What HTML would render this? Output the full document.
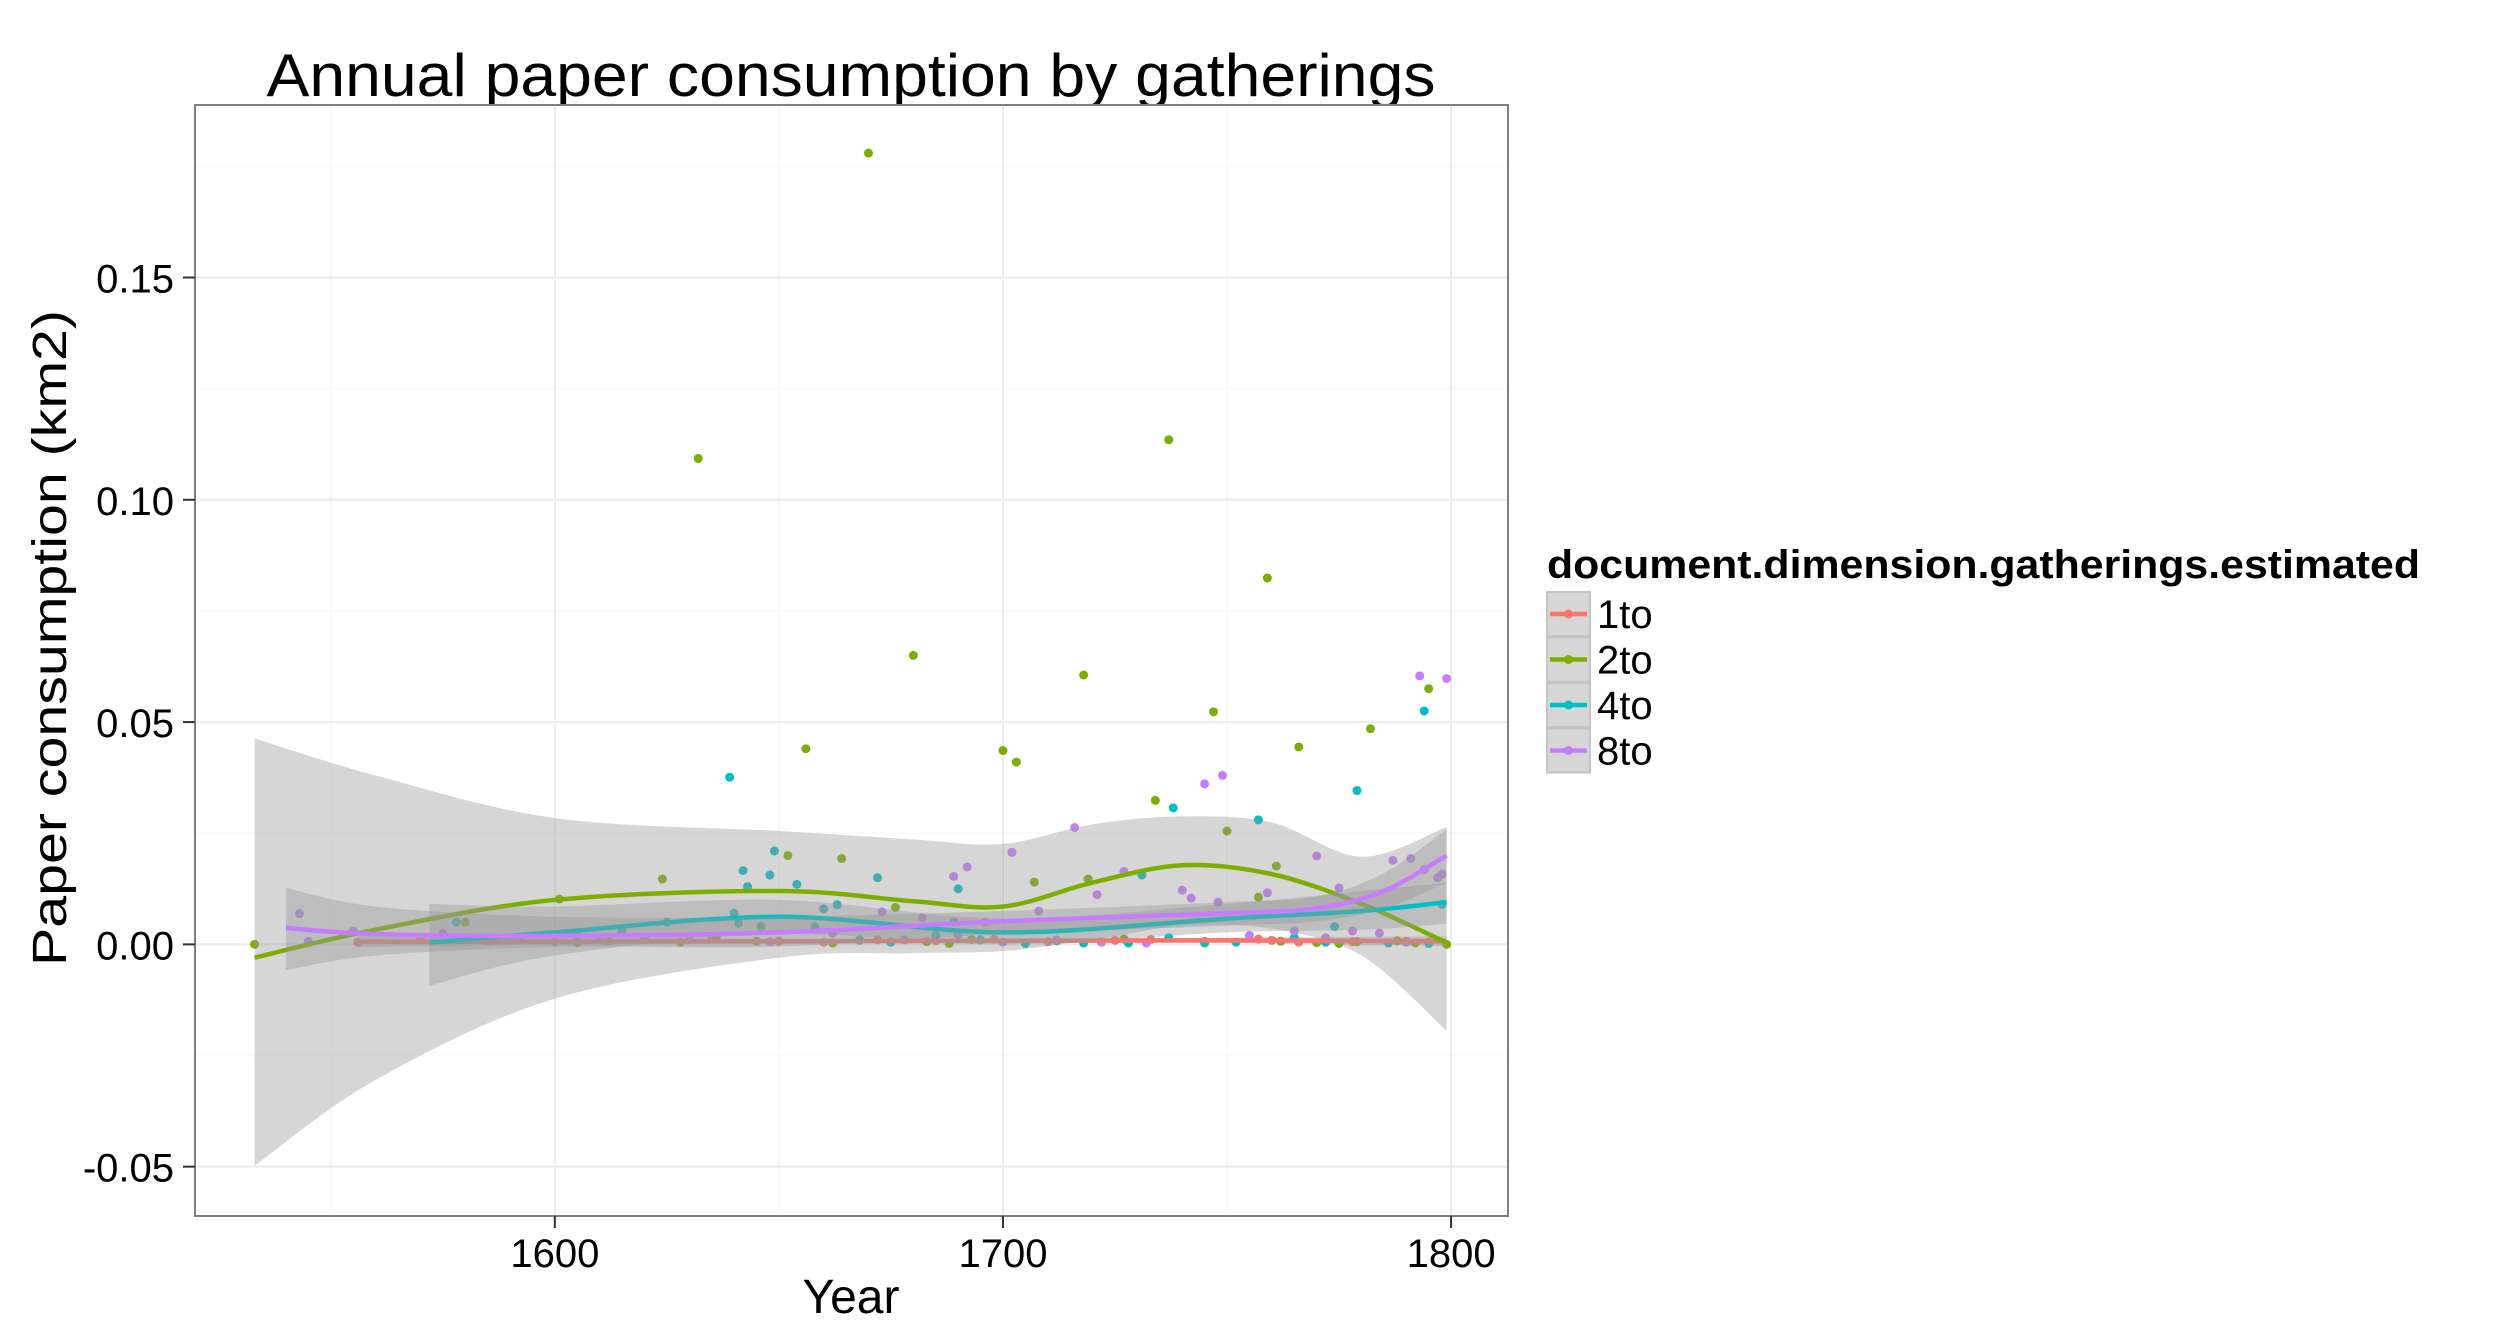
<!DOCTYPE html>
<html><head><meta charset="utf-8"><style>
html,body{margin:0;padding:0;background:#fff;}
svg{display:block;font-family:"Liberation Sans",Arial,sans-serif;}
</style></head><body>
<svg id="chart" width="2496" height="1344" viewBox="0 0 2496 1344">
<text x="851" y="96" font-size="60" text-anchor="middle" textLength="1169" lengthAdjust="spacingAndGlyphs">Annual paper consumption by gatherings</text>
<text transform="translate(66,638) rotate(-90)" font-size="48" text-anchor="middle" textLength="656" lengthAdjust="spacingAndGlyphs">Paper consumption (km2)</text>
<text x="851" y="1313" font-size="48" text-anchor="middle">Year</text>
<g id="grid"></g><g id="pts"></g><g id="smooth"></g><g id="axes"></g>
<g id="legend"></g>
</svg>
<script>
const xTicks=[1600,1700,1800];
const xMinor=[1550,1650,1750];
const yTicks=[-0.05,0,0.05,0.10,0.15];
const yTickLabels=["-0.05","0.00","0.05","0.10","0.15"];
const yMinor=[-0.025,0.025,0.075,0.125,0.175];
const seriesNames=["1to","2to","4to","8to"];
const seriesColors=["#F8766D","#7CAE00","#00BFC4","#C77CFF"];

const p1Years=[1556,1570,1585,1600,1620,1635,1650,1660,1672,1685,1698,1710,1725,1733,1745,1757,1760,1766,1772,1778,1790,1795];
const p1Vals=[0.0005,0.001,0.0008,0.0006,0.001,0.0012,0.0007,0.0005,0.001,0.0008,0.0012,0.0006,0.0009,0.0011,0.0007,0.0012,0.0009,0.0005,0.0008,0.0006,0.0007,0.0005];
const p2Years=[1670,1632,1737,1759,1680,1718,1747,1656,1700,1703,1766,1782,1795,1734,1750,1761,1664,1652,1624,1601,1533,1676,1757,1799,1707,1719,1586,1605,1612,1620,1628,1636,1645,1662,1668,1683,1688,1693,1705,1712,1722,1727,1745,1762,1770,1775,1779,1788,1792,1580];
const p2Vals=[0.178,0.1093,0.1135,0.0824,0.065,0.0606,0.0523,0.044,0.0436,0.041,0.0444,0.0485,0.0575,0.0324,0.0255,0.0176,0.0193,0.020,0.0147,0.0102,0,0.0083,0.0106,0,0.014,0.0147,0.001,0.0004,0.0008,0.0012,0.0005,0.0015,0.0007,0.0003,0.0009,0.0006,0.0002,0.0011,0.0004,0.0008,0.0005,0.0012,0.0003,0.0007,0.0004,0.0002,0.0006,0.0008,0.0003,0.005];
const p4Years=[1639,1738,1757,1779,1794,1649,1642,1648,1654,1672,1690,1731,1643,1663,1798,1774,1578,1590,1605,1615,1625,1640,1646,1658,1668,1675,1685,1695,1705,1712,1718,1728,1737,1745,1752,1765,1772,1786,1795,1641,1660,1689];
const p4Vals=[0.0376,0.0307,0.028,0.0346,0.0525,0.021,0.0166,0.0156,0.0135,0.015,0.0125,0.0156,0.013,0.0089,0.009,0.004,0.005,0.001,0.002,0.003,0.005,0.007,0.004,0.004,0.001,0.0005,0.002,0.001,0.0002,0.0008,0.0003,0.0003,0.0015,0.0004,0.0005,0.0015,0.0005,0.0003,0.0002,0.0047,0.008,0.005];
const p8Years=[1793,1799,1745,1749,1716,1702,1692,1689,1770,1787,1791,1797,1798,1794,1775,1727,1740,1742,1748,1759,1721,1543,1673,1708,1545,1555,1575,1592,1610,1630,1648,1662,1678,1690,1700,1712,1722,1732,1755,1765,1772,1778,1784,1790,1682,1696,1756];
const p8Vals=[0.0604,0.0598,0.0361,0.038,0.0263,0.0207,0.0174,0.0153,0.0199,0.0189,0.0193,0.015,0.0158,0.0168,0.0127,0.0164,0.0122,0.0104,0.0095,0.0116,0.0112,0.0069,0.0073,0.0075,0.0007,0.003,0.0025,0.001,0.0015,0.001,0.0006,0.0025,0.001,0.0022,0.0005,0.001,0.0006,0.0003,0.002,0.003,0.0015,0.003,0.0025,0.0005,0.006,0.005,0.0065];

const s1Years=[1556,1600,1650,1700,1750,1799];
const s1Fit=[0.0006,0.0006,0.0007,0.0008,0.0009,0.0007];
const s1Up=[0.0018,0.0013,0.0012,0.0013,0.0015,0.0018];
const s1Lo=[-0.0006,-0.0001,0.0002,0.0003,0.0003,-0.0004];
const s2Years=[1533,1560,1600,1650,1680,1700,1720,1740,1760,1780,1799];
const s2Fit=[-0.003,0.0033,0.010,0.012,0.0097,0.0085,0.0139,0.0178,0.0158,0.0091,0.0004];
const s2Up=[0.0463,0.038,0.0284,0.0255,0.0236,0.0226,0.027,0.0288,0.0274,0.0197,0.0264];
const s2Lo=[-0.0498,-0.0305,-0.0122,-0.003,-0.002,-0.0015,0.001,0.0042,0.0035,-0.0025,-0.0195];
const s4Years=[1572,1600,1650,1700,1750,1780,1799];
const s4Fit=[0.0004,0.0027,0.0062,0.0027,0.0058,0.0075,0.0095];
const s4Up=[0.0091,0.0085,0.010,0.0058,0.0091,0.012,0.0139];
const s4Lo=[-0.0093,-0.0025,0.0023,0.0,0.0027,0.0033,0.0046];
const s8Years=[1540,1560,1600,1650,1700,1750,1770,1785,1799];
const s8Fit=[0.0037,0.0023,0.0019,0.0027,0.0052,0.007,0.0081,0.012,0.020];
const s8Up=[0.0127,0.0085,0.0062,0.0062,0.0075,0.0095,0.0108,0.016,0.0259];
const s8Lo=[-0.0058,-0.0025,-0.0006,-0.0005,0.0023,0.0042,0.0052,0.008,0.0139];

const L=195,R=1508,T=105,B=1216;
const xMin=1519.7,xMax=1812.7,yMin=-0.0611,yMax=0.1888;
const X=v=>L+(v-xMin)/(xMax-xMin)*(R-L);
const Y=v=>B-(v-yMin)/(yMax-yMin)*(B-T);
const NS="http://www.w3.org/2000/svg";
function mk(tag,attrs,parent){const e=document.createElementNS(NS,tag);for(const k in attrs)e.setAttribute(k,attrs[k]);parent.appendChild(e);return e;}
const grid=document.getElementById('grid'),pts=document.getElementById('pts'),sm=document.getElementById('smooth'),ax=document.getElementById('axes'),lg=document.getElementById('legend');

const bg=mk('rect',{x:L,y:T,width:R-L,height:B-T,fill:'#fff'},grid);


xMinor.forEach(v=>{const l=mk('line',{x1:X(v),x2:X(v),y1:T,y2:B,stroke:'#fafafa','stroke-width':2},grid);

});
yMinor.forEach(v=>{const l=mk('line',{x1:L,x2:R,y1:Y(v),y2:Y(v),stroke:'#fafafa','stroke-width':2},grid);

});
xTicks.forEach(v=>{const l=mk('line',{x1:X(v),x2:X(v),y1:T,y2:B,stroke:'#ebebeb','stroke-width':2},grid);

});
yTicks.forEach(v=>{const l=mk('line',{x1:L,x2:R,y1:Y(v),y2:Y(v),stroke:'#ebebeb','stroke-width':2},grid);

});

const pSets=[[p1Years,p1Vals],[p2Years,p2Vals],[p4Years,p4Vals],[p8Years,p8Vals]];
pSets.forEach((s,i)=>{s[0].forEach((yr,j)=>{const c=mk('circle',{cx:X(yr),cy:Y(s[1][j]),r:4.5,fill:seriesColors[i]},pts);

});});

function curve(xs,ys){const P=xs.map((x,i)=>[X(x),Y(ys[i])]);let d='M'+P[0][0]+','+P[0][1];
for(let i=0;i<P.length-1;i++){const p0=P[i-1]||P[i],p1=P[i],p2=P[i+1],p3=P[i+2]||P[i+1];
d+=' C'+(p1[0]+(p2[0]-p0[0])/6)+','+(p1[1]+(p2[1]-p0[1])/6)+' '+(p2[0]-(p3[0]-p1[0])/6)+','+(p2[1]-(p3[1]-p1[1])/6)+' '+p2[0]+','+p2[1];}return d;}
const sSets=[[s1Years,s1Fit,s1Up,s1Lo],[s2Years,s2Fit,s2Up,s2Lo],[s4Years,s4Fit,s4Up,s4Lo],[s8Years,s8Fit,s8Up,s8Lo]];
sSets.forEach((s,i)=>{
 const up=curve(s[0],s[2]);
 const rx=s[0].slice().reverse(),rl=s[3].slice().reverse();
 const lo=curve(rx,rl).replace(/^M/,' L');
 const rb=mk('path',{d:up+lo+' Z',fill:'#999999','fill-opacity':0.4},sm);
 
 
 const ln=mk('path',{d:curve(s[0],s[1]),fill:'none',stroke:seriesColors[i],'stroke-width':4.5},sm);
 
 
});

const bd=mk('rect',{x:L,y:T,width:R-L,height:B-T,fill:'none',stroke:'#7f7f7f','stroke-width':2},ax);


xTicks.forEach(v=>{const t=mk('line',{x1:X(v),x2:X(v),y1:B,y2:B+12,stroke:'#333','stroke-width':2},ax);


const tx=mk('text',{x:X(v),y:1267,'font-size':40,'text-anchor':'middle'},ax);tx.textContent=v;

});
yTicks.forEach((v,i)=>{const t=mk('line',{x1:183,x2:L,y1:Y(v),y2:Y(v),stroke:'#333','stroke-width':2},ax);


const tx=mk('text',{x:174,y:Y(v)+15,'font-size':40,'text-anchor':'end'},ax);tx.textContent=yTickLabels[i];

});

const lt=mk('text',{x:1547,y:578,'font-size':40,'font-weight':'bold',textLength:873,lengthAdjust:'spacingAndGlyphs'},lg);
lt.textContent='document.dimension.gatherings.estimated';


seriesNames.forEach((n,i)=>{const y0=592+i*45.5;
 const k=mk('rect',{x:1547,y:y0,width:43,height:44,fill:'#d6d6d6',stroke:'#c4c4c4','stroke-width':2},lg);
 
 
 const kl=mk('line',{x1:1550,x2:1587,y1:y0+22,y2:y0+22,stroke:seriesColors[i],'stroke-width':4.5},lg);
 
 
 const kd=mk('circle',{cx:1568.5,cy:y0+22,r:4.5,fill:seriesColors[i]},lg);
 
 
 const tx=mk('text',{x:1597,y:y0+36,'font-size':40},lg);tx.textContent=n;
 
 
});
</script>
</body></html>
